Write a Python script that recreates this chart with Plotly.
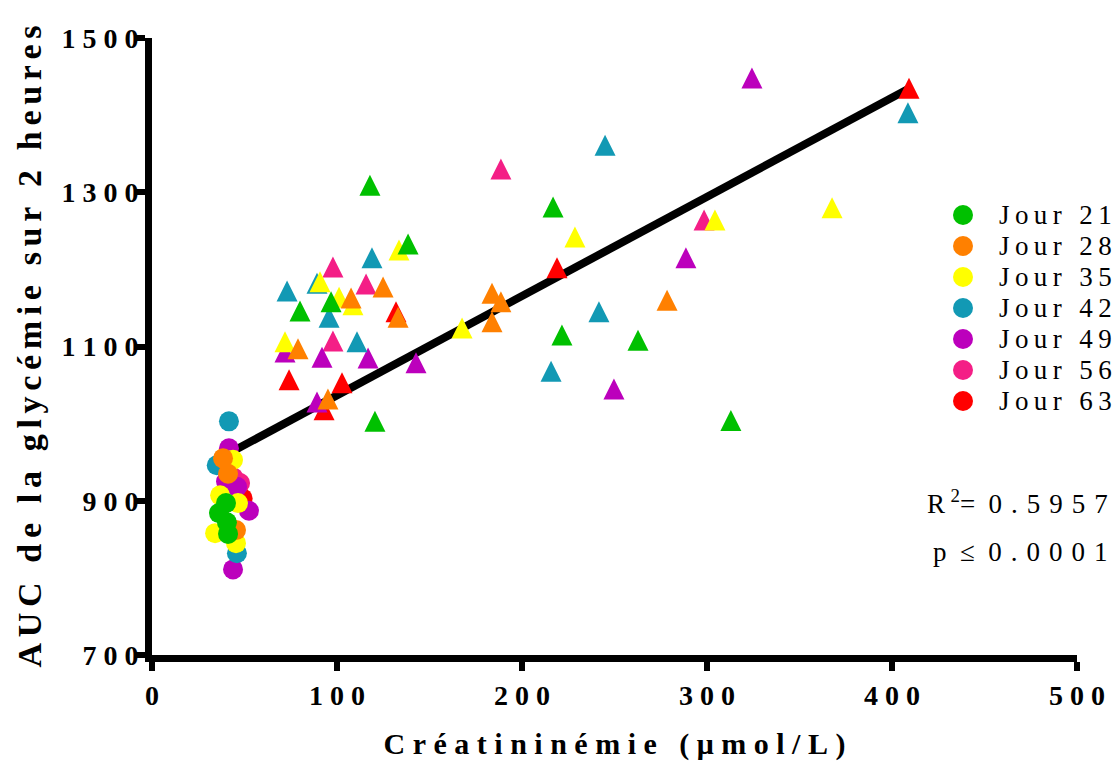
import plotly.graph_objects as go

# --- Données : créatininémie (µmol/L) et AUC de la glycémie sur 2 h -----------
jours = ["Jour 21", "Jour 28", "Jour 35", "Jour 42", "Jour 49", "Jour 56", "Jour 63"]
couleurs = ["#00C000", "#FF8000", "#FFFF00", "#1299B4", "#BC00BC", "#F41E86", "#FF0000"]

# ronds : animaux témoins ; triangles : animaux traités
j21_ronds_x = [40.0, 36.2, 40.5, 41.1]
j21_ronds_y = [897, 884, 872, 857]
j21_tri_x = [117.8, 138.4, 80.0, 96.8, 120.5, 216.8, 221.6, 262.7, 312.9]
j21_tri_y = [1309, 1233, 1146, 1158, 1003, 1281, 1115, 1108, 1004]

j28_ronds_x = [38.4, 41.1, 45.4]
j28_ronds_y = [955, 935, 862]
j28_tri_x = [107.6, 124.9, 133.0, 78.9, 95.1, 183.8, 188.6, 183.8, 278.4]
j28_tri_y = [1163, 1177, 1138, 1097, 1032, 1169, 1158, 1132, 1160]

j35_ronds_x = [36.8, 46.5, 34.1, 45.4, 43.8]
j35_ronds_y = [907, 897, 858, 845, 953]
j35_tri_x = [90.8, 101.1, 108.6, 133.5, 71.9, 167.6, 228.6, 304.3, 367.6]
j35_tri_y = [1184, 1164, 1154, 1225, 1106, 1124, 1242, 1264, 1280]

j42_ronds_x = [41.6, 45.9, 35.0]
j42_ronds_y = [1003, 832, 946]
j42_tri_x = [89.2, 73.0, 118.9, 95.7, 110.8, 215.7, 241.6, 244.9, 408.6]
j42_tri_y = [1182, 1172, 1215, 1138, 1106, 1068, 1145, 1361, 1403]

j49_ronds_x = [41.6, 46.0, 52.4, 43.8, 40.0]
j49_ronds_y = [968, 918, 887, 811, 925]
j49_tri_x = [71.9, 91.9, 116.8, 142.7, 89.2, 249.7, 288.6, 324.3]
j49_tri_y = [1093, 1086, 1085, 1079, 1028, 1045, 1215, 1448]

j56_ronds_x = [47.6, 44.0]
j56_ronds_y = [923, 930]
j56_tri_x = [97.8, 115.7, 97.8, 188.6, 298.4]
j56_tri_y = [1203, 1181, 1107, 1330, 1264]

j63_ronds_x = [49.0, 46.5]
j63_ronds_y = [903, 918]
j63_tri_x = [131.9, 74.1, 102.7, 93.0, 218.9, 409.2]
j63_tri_y = [1145, 1057, 1053, 1018, 1202, 1435]

# droite de régression linéaire
pente = 1.287
ordonnee = 908.0
r2_txt = "0.5957"
p_txt = "0.0001"

x_ticks = [0, 100, 200, 300, 400, 500]
y_ticks = [700, 900, 1100, 1300, 1500]

# --- Mise en page ---------------------------------------------------------------
W, H = 1117, 775
MARGE = dict(l=152, r=40, t=38, b=120)
X_RANGE = [0, 500]
Y_RANGE = [700, 1500]
TAILLE_ROND = 20
TAILLE_TRI = 21
SERIF = "Liberation Serif"

# légende dessinée à la main, en pixels de la page
LEG_X = 963
LEG_Y0 = 215
LEG_PAS = 31
LEG_TEXTE_DX = 34


def espace(txt, sep="\u2009"):
    """Espacement des lettres à la manière de Prism."""
    return sep.join(txt)


groupes = [
    (jours[0], couleurs[0], j21_ronds_x, j21_ronds_y, j21_tri_x, j21_tri_y),
    (jours[1], couleurs[1], j28_ronds_x, j28_ronds_y, j28_tri_x, j28_tri_y),
    (jours[2], couleurs[2], j35_ronds_x, j35_ronds_y, j35_tri_x, j35_tri_y),
    (jours[3], couleurs[3], j42_ronds_x, j42_ronds_y, j42_tri_x, j42_tri_y),
    (jours[4], couleurs[4], j49_ronds_x, j49_ronds_y, j49_tri_x, j49_tri_y),
    (jours[5], couleurs[5], j56_ronds_x, j56_ronds_y, j56_tri_x, j56_tri_y),
    (jours[6], couleurs[6], j63_ronds_x, j63_ronds_y, j63_tri_x, j63_tri_y),
]

# Les triangles « arrow-up » ont leur sommet au point : un axe y jumeau décalé
# d'une demi-hauteur de symbole les recentre sur leur valeur.
px_par_unite = (H - MARGE["t"] - MARGE["b"]) / (Y_RANGE[1] - Y_RANGE[0])
decalage = (TAILLE_TRI / 2) / px_par_unite

fig = go.Figure()

tous_x = [v for g in groupes for v in g[2] + g[4]]
x_fit = [min(tous_x), max(tous_x)]
fig.add_trace(go.Scatter(
    x=x_fit, y=[ordonnee + pente * v for v in x_fit], mode="lines",
    line=dict(color="black", width=8), showlegend=False, hoverinfo="skip",
))

# Jour 63 dessiné en premier, Jour 21 au-dessus
for nom, coul, rx, ry, tx, ty in reversed(groupes):
    fig.add_trace(go.Scatter(
        x=rx, y=ry, mode="markers", name=nom, legendgroup=nom, showlegend=False,
        marker=dict(symbol="circle", size=TAILLE_ROND, color=coul, line=dict(width=0)),
    ))
    fig.add_trace(go.Scatter(
        x=tx, y=ty, mode="markers", name=nom, legendgroup=nom, showlegend=False,
        yaxis="y2",
        marker=dict(symbol="arrow-up", size=TAILLE_TRI, color=coul, line=dict(width=0)),
    ))

# légende : pastilles sur un repère en pixels superposé
leg_y = [LEG_Y0 + i * LEG_PAS for i in range(len(jours))]
fig.add_trace(go.Scatter(
    x=[LEG_X] * len(jours), y=leg_y, mode="markers", xaxis="x3", yaxis="y3",
    marker=dict(symbol="circle", size=TAILLE_ROND, color=couleurs, line=dict(width=0)),
    showlegend=False, hoverinfo="skip",
))
annotations = [
    dict(xref="x3", yref="y3", x=LEG_X + LEG_TEXTE_DX, y=yy, xanchor="left",
         yanchor="middle", showarrow=False, text=espace(nom),
         font=dict(family=SERIF, size=27, color="black"))
    for nom, yy in zip(jours, leg_y)
]
annotations += [
    dict(xref="paper", yref="paper", x=1.036, y=0.248, xanchor="right",
         yanchor="middle", showarrow=False,
         text="R\u2009<sup>2</sup>=\u2002" + espace(r2_txt, "\u2004"),
         font=dict(family=SERIF, size=27, color="black")),
    dict(xref="paper", yref="paper", x=1.036, y=0.167, xanchor="right",
         yanchor="middle", showarrow=False,
         text="p\u2002\u2264\u2002" + espace(p_txt, "\u2004"),
         font=dict(family=SERIF, size=27, color="black")),
]

axe = dict(
    showline=True, linewidth=7, linecolor="black", mirror=False,
    ticks="outside", ticklen=9, tickwidth=6, tickcolor="black",
    showgrid=False, zeroline=False, automargin=False,
    tickfont=dict(family=SERIF, size=28, color="black", weight="bold"),
)

fig.update_layout(
    width=W, height=H, margin=MARGE, showlegend=False,
    paper_bgcolor="white", plot_bgcolor="rgba(0,0,0,0)",
    xaxis=dict(
        axe, range=X_RANGE, tickvals=x_ticks,
        ticktext=[espace(str(v), "\u2005") for v in x_ticks],
        title=dict(text=espace("Créatininémie (μmol/L)", "\u2005"), standoff=26,
                   font=dict(family=SERIF, size=30, color="black", weight="bold")),
    ),
    yaxis=dict(
        axe, range=Y_RANGE, tickvals=y_ticks, ticklabelstandoff=-8,
        ticktext=[espace(str(v), "\u2005") for v in y_ticks],
        title=dict(text=espace("AUC de la glycémie sur 2 heures", "\u2006"), standoff=12,
                   font=dict(family=SERIF, size=34, color="black", weight="bold")),
    ),
    yaxis2=dict(overlaying="y", visible=False,
                range=[Y_RANGE[0] - decalage, Y_RANGE[1] - decalage]),
    xaxis3=dict(overlaying="x", anchor="y3", visible=False,
                range=[MARGE["l"], W - MARGE["r"]]),
    yaxis3=dict(overlaying="y", anchor="x3", visible=False,
                range=[H - MARGE["b"], MARGE["t"]]),
    annotations=annotations,
)

fig.write_html("out.html")
